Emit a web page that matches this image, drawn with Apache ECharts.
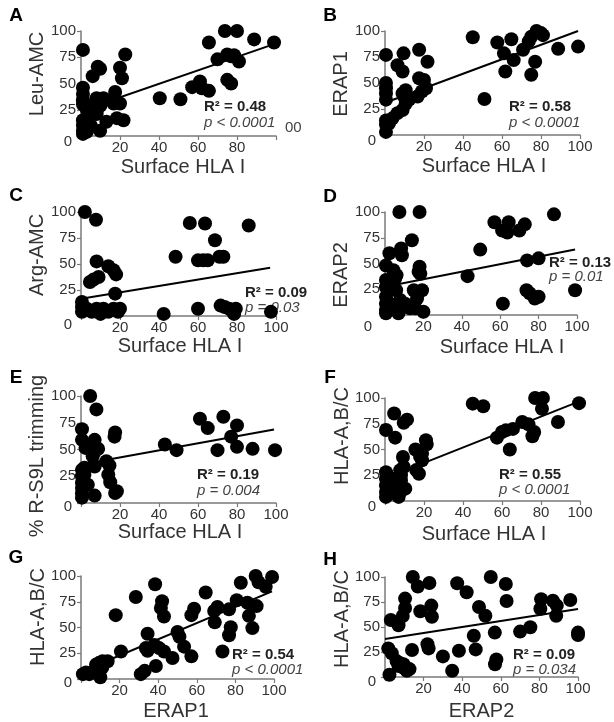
<!DOCTYPE html>
<html>
<head>
<meta charset="utf-8">
<script src="https://cdn.jsdelivr.net/npm/echarts@6/dist/echarts.min.js"></script>
<style>html,body{margin:0;padding:0;background:#fff;}#c{width:614px;height:722px;}</style>
</head>
<body>
<div id="c"></div>
<script>
// ---- data ----
const panelLetters = ['A','B','C','D','E','F','G','H'];
const yTitles = ['Leu-AMC','ERAP1','Arg-AMC','ERAP2','% R-S9L trimming','HLA-A,B/C','HLA-A,B/C','HLA-A,B/C'];
const xTitles = ['Surface HLA I','Surface HLA I','Surface HLA I','Surface HLA I','Surface HLA I','Surface HLA I','ERAP1','ERAP2'];
const r2Labels = ['R² = 0.48','R² = 0.58','R² = 0.09','R² = 0.13','R² = 0.19','R² = 0.55','R² = 0.54','R² = 0.09'];
const pLabels = ['p < 0.0001','p < 0.0001','p = 0.03','p = 0.01','p = 0.004','p < 0.0001','p < 0.0001','p = 0.034'];
const xTicks = [0,20,40,60,80,100];
const yTicks = [0,25,50,75,100];

const ptsA = [[1,82],[1,46],[1,40],[1,34],[1,30],[1,15],[1,10],[1,5],[1,2],
 [3,25],[4,18],[5,10],[2,9],[3,4],[6,28],[8,23],[10,29],[6,57],[8.6,66],[9.8,64],[8,36],[11.5,36],[9.8,5],[13,13.5],[8,21],
 [17.5,42],[17.5,34],[16.7,31],[18.4,17],[21.8,15],[20,65],[21,55],[22.7,77.6],[20,31],
 [40.4,36],[51,35],[57,46.5],[61,52],[62,45.5],[65.6,43],[65.6,89],[70,73],[73.8,100],[80,100],[75,77.6],[77,76],[78.5,77],[81,71],[75,53.5],[77,50],[88.8,92],[99,89]];
const ptsB = [[0.5,77],[0.5,50],[0.5,45],[0.5,40],[0.5,34],[0.5,14],[0.5,10],[0.5,3],[2,11],[3.8,16],
 [6.4,67],[9,61],[9.5,78.5],[6.4,21],[9,24],[10.6,30],[12.4,34],[9,40],[10.6,43],[9.8,37],
 [17.5,82],[17.5,54.5],[20,53],[21.8,70.5],[16.7,37],[19,42],[21,45],
 [45,94],[51,34.6],[57.6,89],[61,78.5],[61.7,61],[64.8,92],[66,72],[70.8,82],[73.7,90],[75,94.5],[77.7,100],[80,98],[81,96],[75,58],[77,70.5],[88.8,83],[99,85]];
const ptsC = [[2,100],[7.7,92.6],[8,52.5],[4.6,32.7],[6.4,35],[9,37.5],[14,47.8],[16.7,44],[18,40],[17.5,21.5],
 [0.5,13.5],[0.5,8.7],[0.5,4],[3,7],[5.5,4],[8,7],[10,2],[11.5,7],[14,4],[16.7,7],[19,4],[20,7],
 [42.4,2],[48.5,57],[55.8,89.4],[60,7],[60,53.5],[62.7,53.5],[65,53.5],[63.6,89],[68.7,72.8],[71,57],[73,57],
 [71.6,10],[73.7,8.7],[76,7],[77.7,5.4],[78.5,2],[79.4,7],[86,87],[97.4,4]];
const ptsD = [[7.5,100],[18,100],[0.5,48],[0.5,34],[0.5,27],[0.5,17.7],[0.5,11],[0.5,5],[0.5,1.6],
 [2.3,60],[8.4,64.5],[8.8,58],[4.4,43.5],[5.3,35.5],[6,38.7],[5.8,24],[7.9,14.5],
 [2.6,11],[4.4,8],[6,5],[7.9,6.5],[9.6,9.7],[7,1.6],[14,72.6],[10.5,11],[13,6.5],
 [15,24],[16.7,16],[15.8,6.5],[17.5,42],[18,46.8],[18.4,40],[19.3,24],[20,3.2],
 [43,37.7],[49.6,63.5],[57,90],[61,82],[64.4,90],[63.7,80],[70,82],[72.8,88],[61.4,11],[74,53],[80,55],
 [73.7,24],[75.4,21],[78,16],[80,17.7],[88,97.7],[99,24]];
const ptsE = [[4.7,100],[7.9,87.5],[0.5,69],[0.5,59],[0.5,31],[0.5,25],[0.5,19],[0.5,14],[0.5,9],[0.5,5],[1.75,33],[1.75,26.5],
 [2.3,51.5],[4.7,50],[7,48],[7,59],[8.8,50.6],[3.5,17],[6,43.7],[7,34],[7,6.9],
 [13,39],[14.6,35],[14,26.5],[15,19.4],[17.5,66],[17.2,62],[17.5,9.4],[18.4,11],
 [43,54.7],[49,49.4],[61,78.8],[65,70],[70,49.4],[73,80.6],[77,62],[80,72.5],[80,52.5],[88,50.6],[99.5,49.4]];
const ptsF = [[0.5,69],[0.5,28],[0.5,21.7],[0.5,15],[0.5,8.7],[0.5,4],[1,25],[1.7,16.8],[3,10],
 [4.7,85],[5.2,61.5],[9.6,76],[11.3,79],[4,21.7],[6,13.6],[7.8,8.7],[8.2,20],[7.8,29.8],[8.2,25],[9.6,33],[9.2,42.7],[10.4,12],[7,4],
 [15.6,50],[16,30],[17.4,26.5],[19,46],[19,39.5],[21,59],[21.4,55],[18,43],
 [45,94.5],[50.4,92],[57.4,61.5],[60,67],[62,68.6],[65.6,70],[64,50],[70.4,76.7],[73.6,74.4],[75.6,62.8],[76.5,67],[77,100],[81,100],[80.5,89.6],[88.7,76.7],[99.5,95]];
const ptsG = [[1,4.7],[2.6,6.3],[4.3,4.7],[6.9,7.9],[8.6,9.4],[9.5,4.7],[10,1.6],[7.8,14],[9.5,15.7],[11,11],[11.2,17.3],[13.8,17.3],
 [18,62],[20.7,26.7],[28.4,79.6],[31,4.7],[33,7.9],[38.4,92],[34.5,44],[33.6,30],[34.5,27.4],[38,33],[38.8,12.6],
 [42,75.5],[41.4,69],[43,60.7],[40.5,30],[43,26.7],[47.4,20.4],[50,45.6],[51,41],[53.4,31.4],[57.2,62],[58.6,68.2],[57.2,22],
 [64.6,84],[69,66],[70.7,70],[69.3,55],[73.3,26.7],[76.7,42.5],[77.6,50.3],[76.7,67.6],[80.7,76.4],[82.8,93.4],
 [86.2,74],[87,61.3],[88.8,49.4],[90.5,100],[92,94],[91,70.8],[95.7,89.6],[99,99]];
const ptsH = [[1.7,28.6],[2.3,2.2],[3,57],[7,51.7],[3.5,23.8],[6,15.9],[7,11],[7.8,13.7],[9.6,12.7],[10,8.6],[11.3,6.3],[12.7,7.9],
 [9.2,61],[10.4,69],[10.4,78.4],[14,27],[14.4,100],[17,90.5],[18.3,65.7],[22,32.7],[22.6,28.6],[23,94],[24,71.4],[24.3,60.3],
 [30,20.6],[34.8,6.3],[37.4,93.7],[38.3,26.3],[42.3,84.8],[46,41.3],[47,27.6],[48.7,70],[52,61.3],[54.8,100],[56.9,44.4],[57.7,17.5],[57,12.7],
 [62.6,93],[63,76],[70,45.4],[75.3,49.8],[80.9,77.8],[80.5,68.2],[87,76.2],[89,71.4],[88.7,61.3],[96,77],[100,44.4],[100,42]];

const fitA = [[0,24],[99,87.5]];
const fitB = [[0,31],[99,100]];
const fitC = [[0,16.5],[97,46.5]];
const fitD = [[0,27.5],[99,63.5]];
const fitE = [[0,36],[99,68.7]];
const fitF = [[0,22],[100,97]];
const fitG = [[0,7],[99,85]];
const fitH = [[0,38],[100,68]];

const allPts = [ptsA,ptsB,ptsC,ptsD,ptsE,ptsF,ptsG,ptsH];
const allFits = [fitA,fitB,fitC,fitD,fitE,fitF,fitG,fitH];

// ---- layout (positions / styles) ----
const FONT = 'Liberation Sans, Arial, Helvetica, sans-serif';
const grids = [
  {left:81, top:31, width:195, height:105},
  {left:385, top:31, width:195, height:104},
  {left:81, top:212, width:195, height:104},
  {left:385, top:212, width:192, height:103},
  {left:81, top:396, width:195, height:107},
  {left:385, top:398, width:195, height:103},
  {left:81, top:576, width:193, height:106},
  {left:385, top:577, width:193, height:105}
];
const letterPos = [[16,16],[330,16],[16,196],[330,197],[16,378],[330,378],[16,558],[330,560]];
const yTitlePos = [[37,74],[341,84],[37,255],[341,275],[37,456],[342,436],[38,617],[342,619]];
const xTitleDx = [4.5,1.5,1.5,21,1.5,1.5,-1.5,0];
const xTitleGap = [21,21,20,22,19,23,22,24];
const zeroDy = [6,6,9,12,4,6,4,5];
const zeroDx = [4,4,4,8,4,4,4,4];
const statPos = [[204,107,123],[509,107,123],[245,293,308],[549,263,277],[197,475,491],[499,475,490],[232,655,670],[513,655,670]];

const axisColor = '#7a7a7a';
const labelColor = '#333';

const option = {
  backgroundColor: '#fff',
  animation: false,
  grid: grids.map(g => Object.assign({containLabel:false}, g)),
  xAxis: grids.map((g,i) => ({
    gridIndex: i, type: 'value', min: xTicks[0], max: xTicks[xTicks.length-1], interval: 20,
    axisLine: {show:true, onZero:false, lineStyle:{color:axisColor, width:1.5}},
    axisTick: {show:true, length:4, lineStyle:{color:axisColor, width:1.2}},
    splitLine: {show:false},
    axisLabel: {
      margin: 4, fontSize: 15, color: labelColor, fontFamily: FONT,
      formatter: v => (v === 0 || (i === 0 && v === 100)) ? '' : String(v)
    },
    name: xTitles[i], nameLocation: 'middle', nameGap: xTitleGap[i],
    nameTextStyle: {fontSize: 20, color: '#333', fontFamily: FONT,
      padding: xTitleDx[i] >= 0 ? [0,0,0,2*xTitleDx[i]] : [0,-2*xTitleDx[i],0,0]}
  })),
  yAxis: grids.map((g,i) => ({
    gridIndex: i, type: 'value', min: yTicks[0], max: yTicks[yTicks.length-1], interval: 25,
    axisLine: {show:true, onZero:false, lineStyle:{color:axisColor, width:1.5}},
    axisTick: {show:true, length:4, lineStyle:{color:axisColor, width:1.2}},
    splitLine: {show:false},
    axisLabel: {
      margin: 5, fontSize: 15, color: labelColor, fontFamily: FONT,
      formatter: v => v === 0 ? '{z|0}' : String(v),
      rich: {z: {fontSize: 15, color: labelColor, fontFamily: FONT, padding: [2*zeroDy[i], zeroDx[i], 0, 0]}}
    }
  })),
  series: [],
  graphic: []
};

for (let i = 0; i < 8; i++) {
  option.series.push({
    type: 'line', xAxisIndex: i, yAxisIndex: i, data: allFits[i],
    showSymbol: false, symbol: 'none', silent: true, z: 1,
    lineStyle: {color: '#000', width: 2}
  });
  option.series.push({
    type: 'scatter', xAxisIndex: i, yAxisIndex: i, data: allPts[i],
    symbol: 'circle', symbolSize: 14, clip: false, z: 2,
    itemStyle: {color: '#000', opacity: 1}
  });
  option.graphic.push({
    type: 'text', x: letterPos[i][0], y: letterPos[i][1],
    style: {text: panelLetters[i], font: 'bold 19px ' + FONT, fill: '#000', align: 'center', verticalAlign: 'middle'}
  });
  option.graphic.push({
    type: 'text', x: yTitlePos[i][0], y: yTitlePos[i][1], rotation: Math.PI/2,
    style: {text: yTitles[i], font: '20px ' + FONT, fill: '#333', align: 'center', verticalAlign: 'middle'}
  });
  option.graphic.push({
    type: 'text', x: statPos[i][0], y: statPos[i][1],
    style: {text: r2Labels[i], font: 'bold 15px ' + FONT, fill: '#222', align: 'left', verticalAlign: 'middle'}
  });
  option.graphic.push({
    type: 'text', x: statPos[i][0], y: statPos[i][2],
    style: {text: pLabels[i], font: 'italic 15px ' + FONT, fill: '#444', align: 'left', verticalAlign: 'middle'}
  });
}
// clipped "100" remnant beside panel A
option.graphic.push({
  type: 'text', x: 285, y: 128,
  style: {text: '00', font: '15px ' + FONT, fill: '#444', align: 'left', verticalAlign: 'middle'}
});

const chart = echarts.init(document.getElementById('c'), null, {renderer: 'canvas'});
chart.setOption(option);
</script>
</body>
</html>
